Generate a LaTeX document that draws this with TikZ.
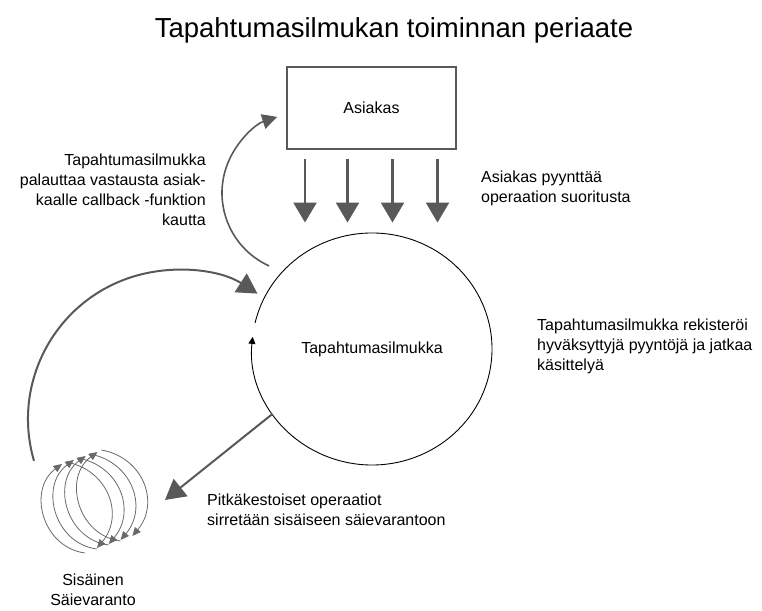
\documentclass[tikz,border=0pt]{standalone}
\usepackage{fontspec}
\setmainfont{Liberation Sans}
\usetikzlibrary{arrows.meta,calc}

\definecolor{arrowgray}{RGB}{89,89,89}
\definecolor{poolgray}{RGB}{105,105,105}

\tikzset{
  x=1pt, y=1pt,
  every node/.style={font=\fontsize{16}{20}\selectfont, inner sep=0pt},
  note/.style={align=left},
  clientbox/.style={draw=arrowgray, line width=1.1pt, minimum width=169pt, minimum height=82pt},
  requestarrow/.style={draw=arrowgray, line width=2.4pt, -{Triangle[length=20pt,width=23pt]}},
  bigarrow/.style={draw=arrowgray, line width=2pt, -{Triangle[length=20pt,width=22pt]}},
  returnarrow/.style={draw=arrowgray, line width=1.6pt, -{Triangle[length=15pt,width=15pt]}},
  looparrow/.style={draw=black, line width=0.9pt, -{Triangle[length=7pt,width=7pt]}},
  poolarrow/.style={draw=poolgray, line width=0.8pt, -{Triangle[length=8.5pt,width=7.5pt]}},
}

\begin{document}
\begin{tikzpicture}
\useasboundingbox (0,0) rectangle (762,610);

% title
\node[font=\fontsize{27.5}{32}\selectfont, anchor=base] (title) at (394,572) {Tapahtumasilmukan toiminnan periaate};

% client and event loop
\node[clientbox] (asiakas) at (371.5,502) {Asiakas};
\node (loop) at (372,261) {Tapahtumasilmukka};

% the event loop itself: an open ellipse closing with a small arrow
\draw[looparrow] ($(loop.center)+(167:120 and 116)$)
  arc[start angle=167, end angle=-186, x radius=120, y radius=116];

% four incoming requests
\foreach \dx in {-66.5,-24,21,66}
  \draw[requestarrow] ($(asiakas.south)+(\dx,-9)$) -- ++(0,-64);

% response back to the client through a callback
\coordinate (retc) at (302,417);
\draw[returnarrow] (retc) ++(245.7:80) arc[start angle=245.7, end angle=108, radius=80];

% long-running work handed to the thread pool
\coordinate (pooltip) at (165,110);
\draw[bigarrow] ($(loop.center)+(214:120 and 116)$) -- (pooltip);

% results coming back from the thread pool
\coordinate (poolarc) at (177,191);
\draw[bigarrow] (poolarc) ++(196.3:149) arc[start angle=196.3, end angle=57.3, radius=149];

% thread pool: four overlapping lens-shaped loops
\foreach \i in {0,1,2,3}{
  \begin{scope}[shift={(11.8*\i,4*\i)}]
    \coordinate (lb\i) at (85,57);
    \coordinate (lt\i) at (62,146);
    \coordinate (rt\i) at (66,148);
    \coordinate (rb\i) at (97,62);
    \draw[poolarrow] (lb\i) to[bend left=68, looseness=1.2] (lt\i);
    \draw[poolarrow] (rt\i) to[bend left=60, looseness=1.2] (rb\i);
  \end{scope}
}

% labels
\node[align=right, anchor=east] (cbtext) at (206,420)
  {Tapahtumasilmukka\\palauttaa vastausta asiak-\\kaalle callback -funktion\\kautta};
\node[note, anchor=west] (reqtext) at (481,422) {Asiakas pyynttää\\operaation suoritusta};
\node[note, anchor=west] (regtext) at (537,264)
  {Tapahtumasilmukka rekisteröi\\hyväksyttyjä pyyntöjä ja jatkaa\\käsittelyä};
\node[note, anchor=west] (longtext) at (207,100)
  {Pitkäkestoiset operaatiot\\sirretään sisäiseen säievarantoon};
\node[align=center] (pooltext) at (93,20) {Sisäinen\\Säievaranto};
\end{tikzpicture}
\end{document}
